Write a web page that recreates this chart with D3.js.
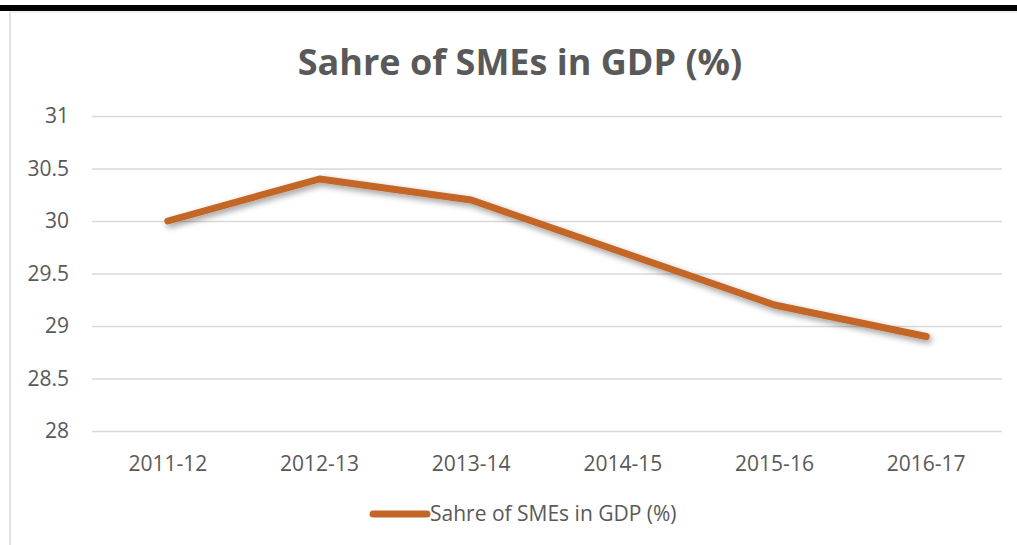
<!DOCTYPE html>
<html>
<head>
<meta charset="utf-8">
<script src="https://cdn.jsdelivr.net/npm/d3@7"></script>
<style>
  body { margin: 0; background: #fff; }
  svg { display: block; }
</style>
</head>
<body>
<div id="chart"></div>
<script>
// Data
const years = ["2011-12", "2012-13", "2013-14", "2014-15", "2015-16", "2016-17"];
const shareValues = [30.0, 30.4, 30.2, 29.7, 29.2, 28.9];
const yTicks = [28, 28.5, 29, 29.5, 30, 30.5, 31];
const seriesName = "Sahre of SMEs in GDP (%)";

const width = 1017, height = 545;
const margin = { top: 116, right: 15, bottom: 114, left: 92 };
const lineColor = "#c46628";
const textColor = "#595959";
const font = "'Open Sans', 'Liberation Sans', sans-serif";

const svg = d3.select("#chart").append("svg")
  .attr("width", width)
  .attr("height", height);

// drop shadow for the line
const defs = svg.append("defs");
const shadow = defs.append("filter")
  .attr("id", "shadow")
  .attr("x", "-10%").attr("y", "-30%")
  .attr("width", "120%").attr("height", "160%");
shadow.append("feDropShadow")
  .attr("dx", 2).attr("dy", 3)
  .attr("stdDeviation", 3)
  .attr("flood-color", "#000")
  .attr("flood-opacity", 0.4);

// page decorations: thick rule at the top and chart frame
svg.append("rect")
  .attr("x", 0).attr("y", 5)
  .attr("width", width).attr("height", 6)
  .attr("fill", "#000");
svg.append("line")
  .attr("x1", 10).attr("x2", width)
  .attr("y1", 12).attr("y2", 12)
  .attr("stroke", "#e3e3e3").attr("stroke-width", 1);
svg.append("line")
  .attr("x1", 10).attr("x2", 10)
  .attr("y1", 12).attr("y2", height)
  .attr("stroke", "#d9d9d9").attr("stroke-width", 1.5);

// Scales
const xScale = d3.scaleBand()
  .domain(years)
  .range([margin.left, width - margin.right])
  .paddingInner(0)
  .paddingOuter(0);

const yScale = d3.scaleLinear()
  .domain([28, 31])
  .range([height - margin.bottom, margin.top]);

const xPos = d => xScale(d) + xScale.bandwidth() / 2;

// Gridlines via axis
const yAxis = d3.axisLeft(yScale)
  .tickValues(yTicks)
  .tickFormat(d => d3.format("")(d))
  .tickSize(-(width - margin.right - margin.left))
  .tickPadding(23);

const yAxisG = svg.append("g")
  .attr("transform", `translate(${margin.left},0)`)
  .call(yAxis);
yAxisG.select(".domain").remove();
yAxisG.selectAll(".tick line")
  .attr("stroke", "#d9d9d9")
  .attr("stroke-width", 1.5);
yAxisG.selectAll(".tick text")
  .attr("fill", textColor)
  .attr("font-family", font)
  .attr("font-size", 21);

const xAxis = d3.axisBottom(xScale)
  .tickSize(0)
  .tickPadding(25);

const xAxisG = svg.append("g")
  .attr("transform", `translate(0,${height - margin.bottom})`)
  .call(xAxis);
xAxisG.select(".domain").remove();
xAxisG.selectAll(".tick text")
  .attr("fill", textColor)
  .attr("font-family", font)
  .attr("font-size", 21);

// Title
svg.append("text")
  .attr("x", 520)
  .attr("y", 75)
  .attr("text-anchor", "middle")
  .attr("fill", textColor)
  .attr("font-family", font)
  .attr("font-weight", "bold")
  .attr("font-size", 36)
  .text(seriesName);

// Line
const line = d3.line()
  .x((d, i) => xPos(years[i]))
  .y(d => yScale(d));

svg.append("path")
  .datum(shareValues)
  .attr("d", line)
  .attr("fill", "none")
  .attr("stroke", lineColor)
  .attr("stroke-width", 7)
  .attr("stroke-linecap", "round")
  .attr("stroke-linejoin", "round")
  .attr("filter", "url(#shadow)");

// Legend
const legend = svg.append("g").attr("transform", "translate(373,514)");
legend.append("line")
  .attr("x1", 0).attr("x2", 54)
  .attr("y1", 0).attr("y2", 0)
  .attr("stroke", lineColor)
  .attr("stroke-width", 7)
  .attr("stroke-linecap", "round");
legend.append("text")
  .attr("x", 57)
  .attr("y", 7)
  .attr("fill", textColor)
  .attr("font-family", font)
  .attr("font-size", 21)
  .text(seriesName);
</script>
</body>
</html>
